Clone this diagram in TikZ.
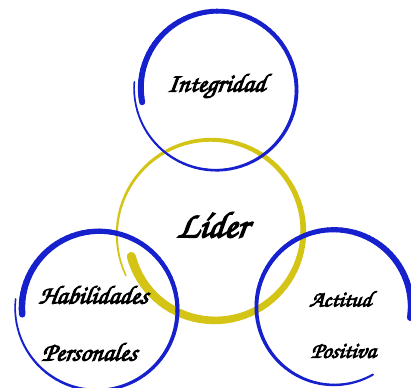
\documentclass[tikz,border=0pt]{standalone}
\usepackage{fontspec}
\newfontfamily\handfont{texgyrechorus-mediumitalic.otf}[FakeBold=3.5, FakeSlant=0.12]
\usetikzlibrary{positioning}
\definecolor{ringblue}{RGB}{22, 32, 205}
\definecolor{ringyellow}{RGB}{212, 196, 22}

% brush ring: centre, start/end angle, start/end radius, start/end width (px), colour
\newcommand{\brushring}[8]{%
  \foreach \i in {0,...,89} {
    \pgfmathsetmacro{\ta}{\i/90}
    \pgfmathsetmacro{\tb}{(\i+1)/90}
    \pgfmathsetmacro{\angA}{#2+(#3-#2)*\ta}
    \pgfmathsetmacro{\angB}{#2+(#3-#2)*\tb}
    \pgfmathsetmacro{\radA}{#4+(#5-#4)*\ta}
    \pgfmathsetmacro{\radB}{#4+(#5-#4)*\tb}
    \pgfmathsetmacro{\wid}{(#6+(#7-#6)*\ta)*0.711}
    \draw[#8, line width=\wid pt, line cap=round, shift={(#1)}]
      (\angA:\radA) -- (\angB:\radB);
  }%
}

\begin{document}
\begin{tikzpicture}[
    x=0.025cm, y=-0.025cm,
    ringtext/.style={text=black, inner sep=0pt, align=center},
    bigtext/.style={ringtext, font=\handfont\fontsize{26.5}{26.5}\selectfont},
    midtext/.style={ringtext, font=\handfont\fontsize{18.5}{18.5}\selectfont},
    smalltext/.style={ringtext, font=\handfont\fontsize{16}{16}\selectfont}
]
\useasboundingbox[fill=white] (0,0) rectangle (411,387);

% === Centre ring ===
\brushring{213,233}{164}{-206}{85}{97}{9}{1.5}{ringyellow}

% === Outer rings ===
\brushring{217,89}{170}{545}{76}{83}{6}{1.5}{ringblue}
\brushring{98,309}{176}{547}{76}{83}{6.5}{1.5}{ringblue}
\brushring{334,307}{8}{-300}{77}{78}{6.5}{2}{ringblue}

% === Labels ===
\node[bigtext] (lider) at (212,225) {Líder};
\node[midtext] (integridad) at (216,86) {Integridad};
\node[midtext] (habilidades) at (93,295) {Habilidades};
\node[midtext] (personales) at (89,352) {Personales};
\node[smalltext] (actitud) at (340,299) {Actitud};
\node[smalltext] (positiva) at (343,351) {Positiva};

\end{tikzpicture}
\end{document}
